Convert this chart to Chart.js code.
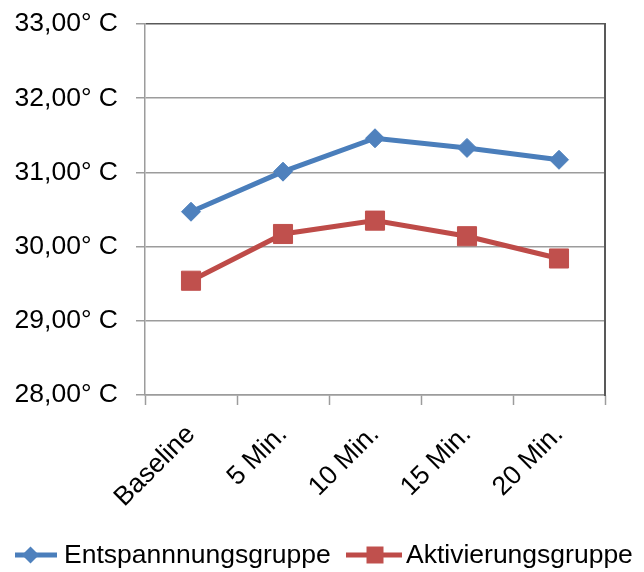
<!DOCTYPE html>
<html>
<head>
<meta charset="utf-8">
<script src="https://cdn.jsdelivr.net/npm/chart.js@4/dist/chart.umd.min.js"></script>
<style>
  html, body { margin: 0; padding: 0; background: #ffffff; }
  #wrap { width: 644px; height: 572px; }
</style>
</head>
<body>
<div id="wrap"><canvas id="chart" width="644" height="572"></canvas></div>
<script>
// Mean skin temperature (°C) per measuring point
const categories = ['Baseline', '5 Min.', '10 Min.', '15 Min.', '20 Min.'];
const entspannung = [30.47, 31.01, 31.46, 31.33, 31.17];
const aktivierung = [29.54, 30.17, 30.35, 30.14, 29.84];
const seriesNames = ['Entspannnungsgruppe', 'Aktivierungsgruppe'];
const yMin = 28;
const yMax = 33;
const yStep = 1;

const BLUE = '#4a7ebb';
const BLUE_MARK = '#4f81bd';
const RED = '#be4b48';
const RED_MARK = '#c0504d';
const GRID = '#9c9c9c';
const FRAME = '#595959';
const FONT = '"Liberation Sans", Arial, Helvetica, sans-serif';
const FONT_SIZE = 26.5;

Chart.defaults.font.family = FONT;
Chart.defaults.font.size = FONT_SIZE;
Chart.defaults.color = '#000000';

const fmt = v => v.toFixed(2).replace('.', ',') + '\u00b0 C';

// Legend row under the axis: line sample with marker, then the series name
const legendRow = {
  id: 'legendRow',
  afterDraw(chart) {
    const ctx = chart.ctx;
    const y = 555;
    const entries = [
      { ds: chart.data.datasets[0], x0: 15, x1: 57, mx: 30.5, tx: 64, shape: 'diamond', s: 8.5 },
      { ds: chart.data.datasets[1], x0: 346, x1: 402, mx: 375, tx: 406, shape: 'square', s: 17 }
    ];
    ctx.save();
    entries.forEach(e => {
      ctx.strokeStyle = e.ds.borderColor;
      ctx.lineWidth = e.ds.borderWidth;
      ctx.beginPath();
      ctx.moveTo(e.x0, y);
      ctx.lineTo(e.x1, y);
      ctx.stroke();
      ctx.fillStyle = e.ds.pointBackgroundColor;
      ctx.beginPath();
      if (e.shape === 'diamond') {
        ctx.moveTo(e.mx, y - e.s);
        ctx.lineTo(e.mx + e.s, y);
        ctx.lineTo(e.mx, y + e.s);
        ctx.lineTo(e.mx - e.s, y);
        ctx.closePath();
      } else {
        ctx.rect(e.mx - e.s / 2, y - e.s / 2, e.s, e.s);
      }
      ctx.fill();
      ctx.fillStyle = '#000000';
      ctx.font = FONT_SIZE + 'px ' + FONT;
      ctx.textAlign = 'left';
      ctx.textBaseline = 'middle';
      ctx.fillText(e.ds.label, e.tx, y + 0.5);
    });
    ctx.restore();
  }
};

new Chart(document.getElementById('chart'), {
  type: 'line',
  data: {
    labels: categories,
    datasets: [
      {
        label: seriesNames[0],
        data: entspannung,
        borderColor: BLUE,
        borderWidth: 5,
        pointStyle: 'rectRot',
        pointRadius: 9.5,
        pointBackgroundColor: BLUE_MARK,
        pointBorderColor: BLUE_MARK,
        pointBorderWidth: 1,
        tension: 0
      },
      {
        label: seriesNames[1],
        data: aktivierung,
        borderColor: RED,
        borderWidth: 5,
        pointStyle: 'rect',
        pointRadius: 13.5,
        pointBackgroundColor: RED_MARK,
        pointBorderColor: RED_MARK,
        pointBorderWidth: 1,
        tension: 0
      }
    ]
  },
  options: {
    responsive: false,
    animation: false,
    events: [],
    layout: { padding: { top: 24, right: 0, bottom: 62, left: 0 } },
    scales: {
      x: {
        offset: true,
        grid: {
          offset: true,
          drawOnChartArea: false,
          drawTicks: true,
          tickLength: 10,
          tickColor: GRID,
          tickWidth: 1.5
        },
        border: { display: true, color: GRID, width: 1.5 },
        ticks: {
          autoSkip: false,
          minRotation: 45,
          maxRotation: 45,
          padding: 14,
          color: '#000000',
          font: { size: FONT_SIZE }
        },
        afterFit: s => { s.height = 115; }
      },
      y: {
        min: yMin,
        max: yMax,
        grid: {
          color: ctx => (ctx.tick && ctx.tick.value === yMax ? FRAME : GRID),
          lineWidth: 1.5,
          tickLength: 9,
          tickColor: GRID
        },
        border: { display: true, color: GRID, width: 1.5 },
        ticks: {
          stepSize: yStep,
          padding: 18,
          color: '#000000',
          font: { size: FONT_SIZE },
          callback: v => fmt(v)
        },
        afterFit: s => { s.width = 145; s.paddingTop = 0; s.paddingBottom = 0; }
      },
      frameRight: {
        type: 'linear',
        position: 'right',
        grid: { display: false },
        ticks: { display: false },
        border: { display: true, color: FRAME, width: 2 },
        afterFit: s => { s.width = 39; s.paddingTop = 0; s.paddingBottom = 0; }
      }
    },
    plugins: {
      tooltip: { enabled: false },
      legend: { display: false }
    }
  },
  plugins: [legendRow]
});
</script>
</body>
</html>
